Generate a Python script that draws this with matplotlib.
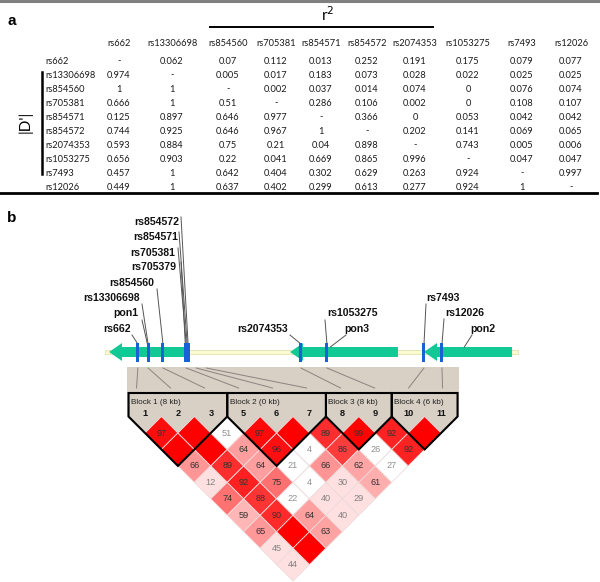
import numpy as np
import matplotlib
matplotlib.use("Agg")
import matplotlib.pyplot as plt
from matplotlib.patches import Polygon, Rectangle

# ---- panel a : pairwise LD table, upper triangle r^2, lower triangle |D'|
snps = ["rs662", "rs13306698", "rs854560", "rs705381", "rs854571",
        "rs854572", "rs2074353", "rs1053275", "rs7493", "rs12026"]
table_rows = [
    ["-", "0.062", "0.07", "0.112", "0.013", "0.252", "0.191", "0.175", "0.079", "0.077"],
    ["0.974", "-", "0.005", "0.017", "0.183", "0.073", "0.028", "0.022", "0.025", "0.025"],
    ["1", "1", "-", "0.002", "0.037", "0.014", "0.074", "0", "0.076", "0.074"],
    ["0.666", "1", "0.51", "-", "0.286", "0.106", "0.002", "0", "0.108", "0.107"],
    ["0.125", "0.897", "0.646", "0.977", "-", "0.366", "0", "0.053", "0.042", "0.042"],
    ["0.744", "0.925", "0.646", "0.967", "1", "-", "0.202", "0.141", "0.069", "0.065"],
    ["0.593", "0.884", "0.75", "0.21", "0.04", "0.898", "-", "0.743", "0.005", "0.006"],
    ["0.656", "0.903", "0.22", "0.041", "0.669", "0.865", "0.996", "-", "0.047", "0.047"],
    ["0.457", "1", "0.642", "0.404", "0.302", "0.629", "0.263", "0.924", "-", "0.997"],
    ["0.449", "1", "0.637", "0.402", "0.299", "0.613", "0.277", "0.924", "1", "-"],
]

# ---- panel b : gene track (kb from left end of the drawn region)
region_kb = 133.2
gene_names = ["pon1", "pon3", "pon2"]
gene_tip_kb = [1.3, 59.7, 102.9]      # all on minus strand, arrow tip on the left
gene_end_kb = [27.4, 94.5, 131.3]
track_snps = ["rs662", "rs13306698", "rs854560", "rs705379", "rs705381",
              "rs854571", "rs854572", "rs2074353", "rs1053275", "rs7493", "rs12026"]
track_snp_kb = [10.6, 13.9, 18.7, 25.9, 26.2, 26.5, 26.8, 63.2, 71.6, 102.9, 108.7]

# ---- Haploview LD plot (markers = the 10 table SNPs, rs705379 dropped)
ld_marker_ids = ["1", "2", "3", "5", "6", "7", "8", "9", "10", "11"]
low_lod_pairs = [(2, 3), (4, 6), (6, 8), (3, 6), (6, 9), (3, 7), (2, 7)]
block_names = ["Block 1 (8 kb)", "Block 2 (0 kb)", "Block 3 (8 kb)", "Block 4 (6 kb)"]
block_members = [[0, 1, 2], [3, 4, 5], [6, 7], [8, 9]]

W, H = 600, 582
fig = plt.figure(figsize=(W / 100, H / 100), dpi=100)
ax = fig.add_axes([0, 0, 1, 1])
ax.set_xlim(0, W)
ax.set_ylim(H, 0)
ax.axis("off")

tab_font = "Lato"
arial = "Liberation Sans"

# ================= panel a =================
ax.plot([0, W], [0.8, 0.8], color="#808080", lw=2.2)
ax.text(7, 21, "a", fontsize=11, fontweight="bold", family=arial, va="center")
ax.text(328, 15, "r$^2$", fontsize=11, family=tab_font, ha="center", va="center")
ax.plot([210, 433], [27, 27], color="black", lw=1.4)

col_x = [119, 172, 228, 276, 321, 367, 415, 468, 522, 571]
header_y = 43
row_y0, row_dy = 61, 14.0
for name, cx in zip(snps, col_x):
    ax.text(cx, header_y, name, fontsize=6.7, family=tab_font, ha="center", va="center", color="#1a1a1a")
for r, (name, row) in enumerate(zip(snps, table_rows)):
    y = row_y0 + r * row_dy
    ax.text(45, y, name, fontsize=6.7, family=tab_font, ha="left", va="center", color="#1a1a1a")
    for cx, val in zip(col_x, row):
        ax.text(cx, y, val, fontsize=6.7, family=tab_font, ha="center", va="center", color="#1a1a1a")

ax.plot([42, 42], [row_y0 + 0.8 * row_dy, row_y0 + 8.1 * row_dy], color="black", lw=1.8)
ax.text(25, 122, "|D'|", fontsize=11, family=tab_font, rotation=90, ha="center", va="center")
ax.plot([0, W - 3], [192.5, 192.5], color="black", lw=2)

# ================= panel b : gene track =================
ax.text(7, 218, "b", fontsize=11, fontweight="bold", family=arial, va="center")

px0, kb_px = 105, 3.1
def tx(kb):
    return px0 + kb * kb_px

gy = 352
ax.add_patch(Rectangle((tx(0), gy - 1.6), region_kb * kb_px, 3.2,
                       facecolor="#fbfbd2", edgecolor="#e2e2b0", lw=0.6, zorder=1))
green = "#12c894"
for tip, end in zip(gene_tip_kb, gene_end_kb):
    a, b = tx(tip), tx(end)
    hb = a + 13
    pts = [(a, gy), (hb, gy - 9), (hb, gy - 5), (b, gy - 5), (b, gy + 5), (hb, gy + 5), (hb, gy + 9)]
    ax.add_patch(Polygon(pts, closed=True, facecolor=green, edgecolor="none", zorder=2))

for kb in track_snp_kb:
    ax.add_patch(Rectangle((tx(kb) - 1.5, 343), 3, 19, facecolor="#1763d6", edgecolor="none", zorder=3))

# label placement for the track (label centre, leader start)
label_layout = {
    "rs662": ((117, 329), (132, 335)),
    "pon1": ((126, 313), (142, 320)),
    "rs13306698": ((112, 298), (142, 304)),
    "rs854560": ((132, 283), (157, 289)),
    "rs705379": ((154, 267), (181, 262)),
    "rs705381": ((153, 253), (178, 248)),
    "rs854571": ((156, 237), (179, 232)),
    "rs854572": ((157, 222), (181, 217)),
    "rs2074353": ((263, 329), (290, 335)),
    "rs1053275": ((352, 313), (325, 320)),
    "pon3": ((357, 329), (346, 335)),
    "rs7493": ((443, 298), (426, 304)),
    "rs12026": ((465, 313), (444, 319)),
    "pon2": ((483, 329), (472, 335)),
}
targets = dict(zip(track_snps, [tx(k) for k in track_snp_kb]))
targets["pon1"] = tx(track_snp_kb[1])
targets["pon3"] = tx(gene_tip_kb[1] + 13.0)
targets["pon2"] = tx(gene_tip_kb[2] + 13.0)
for name, ((lx, ly), (sx, sy)) in label_layout.items():
    end_y = 347 if name.startswith("pon") else 344
    ax.plot([sx, targets[name]], [sy, end_y], color="#555555", lw=0.7, zorder=2)
    ax.text(lx, ly, name, fontsize=7.6, fontweight="bold", family=arial,
            ha="center", va="center", color="#111111")

# ================= panel b : LD plot =================
x0, dx = 145, 32.9
h = dx / 2
y1 = 433
n = len(ld_marker_ids)
mx = x0 + dx * np.arange(n)
top = y1 - h
box_top, block_top = 367, 393
L, R = mx[0] - h, mx[-1] + h

# beige background with zig-zag bottom along first diamond row
bg = [(L - 1.5, box_top), (R + 1.5, box_top), (R + 1.5, top)]
for k in range(n - 1, -1, -1):
    bg += [(mx[k] + h, top), (mx[k], y1)]
bg += [(mx[0] - h, top), (L - 1.5, top)]
ax.add_patch(Polygon(bg, closed=True, facecolor="#d8cfc5", edgecolor="none", zorder=1))

# connector lines from track positions to the LD markers
conn_snp = [kb for s, kb in zip(track_snps, track_snp_kb) if s in snps]
starts = []
for kb in conn_snp:
    x = tx(kb)
    if starts and x - starts[-1] < 10:
        x = starts[-1] + 10
    starts.append(x)
ends = np.linspace(L + 8, R - 15, n)
for sx, ex in zip(starts, ends):
    ax.plot([sx, ex], [box_top + 1, block_top - 5], color="#8a8580", lw=0.7, zorder=2)

# diamonds from |D'| (lower triangle of the table)
for i in range(n):
    for j in range(i + 1, n):
        d = float(table_rows[j][i])
        cx = (mx[i] + mx[j]) / 2
        cy = y1 + (j - i - 1) * h
        low = (i, j) in low_lod_pairs
        if low:
            fc, tc = "white", "#909090"
        elif d >= 1:
            fc, tc = "#ff0000", "#333333"
        else:
            gb = min(224, 446 * (1 - d)) / 255
            fc = (1, gb, gb)
            tc = "#808080" if d < 0.5 else "#333333"
        ax.add_patch(Polygon([(cx, cy - h), (cx + h, cy), (cx, cy + h), (cx - h, cy)],
                             closed=True, facecolor=fc, edgecolor="#eedada", lw=0.6, zorder=3))
        if d < 1:
            val = int(round(d * 1000)) // 10
            ax.text(cx, cy, str(val), fontsize=6.6, family=arial, ha="center", va="center",
                    color=tc, zorder=5)

# haplotype blocks
for bname, mem in zip(block_names, block_members):
    bl, br = mx[mem[0]] - h, mx[mem[-1]] + h
    apex = ((bl + br) / 2, top + (br - bl) / 2)
    ax.add_patch(Polygon([(bl, block_top), (br, block_top), (br, top), apex, (bl, top)],
                         closed=True, facecolor="none", edgecolor="black", lw=1.5, zorder=4))
    ax.text(bl + 2.5, 402, bname, fontsize=5.9, family=arial, ha="left", va="center",
            color="#222222", zorder=5)
for x, lab in zip(mx, ld_marker_ids):
    ax.text(x, 414, lab, fontsize=6.6, fontweight="bold", family=arial, ha="center",
            va="center", color="#111111", zorder=5)

fig.savefig("out.png", dpi=100)
